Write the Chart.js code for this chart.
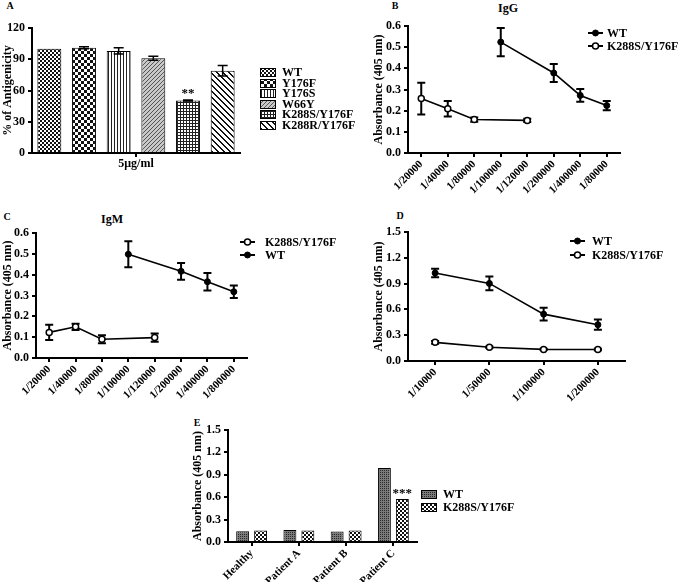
<!DOCTYPE html>
<html>
<head>
<meta charset="utf-8">
<script src="https://cdn.jsdelivr.net/npm/chart.js@4.4.0/dist/chart.umd.min.js"></script>
<style>
  body { margin: 0; background: #fff; width: 683px; height: 582px; position: relative; overflow: hidden; font-family: 'Liberation Serif', serif; }
  .box { position: absolute; }
  .lbl { position: absolute; font-weight: bold; font-size: 10px; color: #000; transform: translate(-50%, -50%); white-space: nowrap; }
  .ttl { font-size: 12px; }
</style>
</head>
<body>
<div class="lbl" style="left:10px;top:5px">A</div>
<div class="lbl" style="left:395px;top:5px">B</div>
<div class="lbl" style="left:7px;top:216px">C</div>
<div class="lbl" style="left:400px;top:215px">D</div>
<div class="lbl" style="left:197px;top:422px">E</div>
<div class="lbl ttl" style="left:508px;top:8px">IgG</div>
<div class="lbl ttl" style="left:112px;top:219px">IgM</div>

<div class="box" style="left:0;top:0"><canvas id="chartA" width="362" height="180"></canvas></div>
<div class="box" style="left:340px;top:0"><canvas id="chartB" width="343" height="205"></canvas></div>
<div class="box" style="left:0;top:195px"><canvas id="chartC" width="340" height="210"></canvas></div>
<div class="box" style="left:340px;top:195px"><canvas id="chartD" width="343" height="210"></canvas></div>
<div class="box" style="left:180px;top:410px"><canvas id="chartE" width="345" height="172"></canvas></div>

<script>
// ---- data ----
const mutantsA = ['WT', 'Y176F', 'Y176S', 'W66Y', 'K288S/Y176F', 'K288R/Y176F'];
const doseA = ['5μg/ml'];
const antigenicityA = [100, 101, 98, 91, 50.5, 79];
const antigenicityErrA = [0, 1, 3, 2, 0.5, 5];

const dilutionsB = ['1/20000', '1/40000', '1/80000', '1/100000', '1/120000', '1/200000', '1/400000', '1/80000'];
const igG_wt = [null, null, null, 0.524, null, 0.378, 0.272, 0.224];
const igG_wtErr = [0, 0, 0, 0.067, 0, 0.042, 0.03, 0.022];
const igG_mut = [0.257, 0.209, 0.158, null, 0.154, null, null, null];
const igG_mutErr = [0.075, 0.037, 0.01, 0, 0.008, 0, 0, 0];

const dilutionsC = ['1/20000', '1/40000', '1/80000', '1/100000', '1/120000', '1/200000', '1/400000', '1/800000'];
const igM_mut = [0.123, 0.15, 0.09, null, 0.098, null, null, null];
const igM_mutErr = [0.037, 0.015, 0.019, 0, 0.02, 0, 0, 0];
const igM_wt = [null, null, null, 0.498, null, 0.416, 0.366, 0.318];
const igM_wtErr = [0, 0, 0, 0.062, 0, 0.04, 0.042, 0.03];

const dilutionsD = ['1/10000', '1/50000', '1/100000', '1/200000'];
const absD_wt = [1.023, 0.902, 0.545, 0.422];
const absD_wtErr = [0.05, 0.08, 0.075, 0.06];
const absD_mut = [0.217, 0.16, 0.135, 0.133];
const absD_mutErr = [0.015, 0.008, 0.008, 0.008];

const groupsE = ['Healthy', 'Patient A', 'Patient B', 'Patient C'];
const absE_wt = [0.145, 0.16, 0.14, 0.99];
const absE_mut = [0.155, 0.155, 0.155, 0.575];

// ---- fill patterns ----
function makePattern(size, draw) {
    let c = document.createElement('canvas');
    c.width = size; c.height = size;
    let g = c.getContext('2d');
    draw(g, size);
    return g.createPattern(c, 'repeat');
}
const patChecker = (cell, dark, light) => makePattern(cell * 2, (g, s) => {
    g.fillStyle = light; g.fillRect(0, 0, s, s);
    g.fillStyle = dark;
    g.fillRect(0, 0, cell, cell);
    g.fillRect(cell, cell, cell, cell);
});
const patVertical = makePattern(3, (g, s) => {
    g.fillStyle = '#fff'; g.fillRect(0, 0, s, s);
    g.fillStyle = '#222'; g.fillRect(0, 0, 1, s);
});
const patFineDiag = makePattern(4, (g, s) => {
    g.fillStyle = '#c8c8c8'; g.fillRect(0, 0, s, s);
    g.fillStyle = '#555';
    for (let i = 0; i < s; i++) g.fillRect(s - 1 - i, i, 1, 1);
});
const patGrid = makePattern(3, (g, s) => {
    g.fillStyle = '#fff'; g.fillRect(0, 0, s, s);
    g.fillStyle = '#222';
    g.fillRect(0, 0, s, 1);
    g.fillRect(0, 0, 1, s);
});
const patBackDiag = makePattern(6, (g, s) => {
    g.fillStyle = '#fff'; g.fillRect(0, 0, s, s);
    g.fillStyle = '#111';
    for (let i = 0; i < s; i++) { g.fillRect(i, i, 2, 1); g.fillRect((i + 1) % s, i, 1, 1); }
});
const patDots = makePattern(2, (g, s) => {
    g.fillStyle = '#7a7a7a'; g.fillRect(0, 0, s, s);
    g.fillStyle = '#2a2a2a'; g.fillRect(0, 0, 1, 1);
});

const patternsA = [patChecker(2, '#111', '#fff'), patChecker(3, '#111', '#fff'), patVertical, patFineDiag, patGrid, patBackDiag];

// ---- plugins ----
function drawErrors(chart, opts) {
    let ctx = chart.ctx, yS = chart.scales.y;
    ctx.save();
    ctx.strokeStyle = '#000';
    ctx.lineWidth = opts.width || 2;
    opts.errors.forEach((errs, di) => {
        if (!errs) return;
        let vals = chart.data.datasets[di].data;
        chart.getDatasetMeta(di).data.forEach((el, i) => {
            let v = vals[i], e = errs[i];
            if (v == null || !e) return;
            let top = yS.getPixelForValue(v + e), bot = yS.getPixelForValue(v - e);
            let cap = opts.cap || 4;
            ctx.beginPath();
            ctx.moveTo(el.x, top); ctx.lineTo(el.x, bot);
            ctx.moveTo(el.x - cap, top); ctx.lineTo(el.x + cap, top);
            ctx.moveTo(el.x - cap, bot); ctx.lineTo(el.x + cap, bot);
            ctx.stroke();
        });
    });
    ctx.restore();
}

const errBars = {
    id: 'errBars',
    beforeDatasetsDraw(chart, args, opts) {
        if (opts.errors && opts.under) drawErrors(chart, opts);
    },
    afterDatasetsDraw(chart, args, opts) {
        if (opts.errors && !opts.under) drawErrors(chart, opts);
    }
};

const stars = {
    id: 'stars',
    afterDatasetsDraw(chart, args, opts) {
        if (!opts.text) return;
        let el = chart.getDatasetMeta(opts.dataset).data[opts.index];
        let ctx = chart.ctx;
        ctx.save();
        ctx.fillStyle = '#000';
        ctx.font = 'bold 13px "Liberation Serif"';
        ctx.textAlign = 'center';
        ctx.textBaseline = 'middle';
        ctx.fillText(opts.text, el.x, el.y - opts.dy);
        ctx.restore();
    }
};

const sideLegend = {
    id: 'sideLegend',
    afterDraw(chart, args, opts) {
        if (opts.x == null) return;
        let ctx = chart.ctx;
        ctx.save();
        ctx.font = 'bold 12px "Liberation Serif"';
        ctx.textBaseline = 'middle';
        chart.data.datasets.forEach((ds, i) => {
            let y = Math.round(opts.y + i * opts.step);
            if (opts.kind === 'bar') {
                ctx.fillStyle = ds.backgroundColor;
                ctx.fillRect(opts.x, y - 4, 15, 8);
                ctx.strokeStyle = '#000';
                ctx.lineWidth = 1;
                ctx.strokeRect(opts.x + 0.5, y - 3.5, 15, 8);
            } else {
                ctx.strokeStyle = '#000';
                ctx.lineWidth = 2;
                ctx.beginPath();
                ctx.moveTo(opts.x, y); ctx.lineTo(opts.x + 15, y);
                ctx.stroke();
                ctx.beginPath();
                ctx.arc(opts.x + 7.5, y, ds.pointRadius, 0, Math.PI * 2);
                ctx.fillStyle = ds.pointBackgroundColor;
                ctx.fill();
                ctx.lineWidth = ds.pointBorderWidth;
                ctx.stroke();
            }
            ctx.fillStyle = '#000';
            ctx.fillText(ds.label, opts.textX, y + 1);
        });
        ctx.restore();
    }
};

Chart.register(errBars, stars, sideLegend);
Chart.defaults.font.family = "'Liberation Serif', serif";
Chart.defaults.font.weight = 'bold';
Chart.defaults.font.size = 12;
Chart.defaults.color = '#000';
Chart.defaults.animation = false;
Chart.defaults.plugins.legend.display = false;
Chart.defaults.plugins.tooltip.enabled = false;

// ---- axis helpers ----
function yAxis(max, step, title, width, dec) {
    return {
        min: 0, max: max,
        ticks: { stepSize: step, padding: 3, font: { size: 12, weight: 'bold' },
                 callback: v => dec ? Number(v).toFixed(dec) : v },
        grid: { drawOnChartArea: false, tickLength: 4, color: '#000', lineWidth: 2 },
        border: { color: '#000', width: 2 },
        title: { display: true, text: title, font: { size: 12, weight: 'bold' }, padding: 1 },
        afterFit: s => { s.width = width; }
    };
}
function xAxis(height, rotated, offset) {
    return {
        offset: offset,
        ticks: { autoSkip: false, minRotation: rotated ? 45 : 0, maxRotation: rotated ? 45 : 0,
                 padding: rotated ? 1 : 0, font: { size: rotated ? 11 : 12, weight: 'bold' } },
        grid: { drawOnChartArea: false, offset: false, tickLength: 4, color: '#000', lineWidth: 2 },
        border: { color: '#000', width: 2 },
        afterFit: s => { s.height = height; }
    };
}
function lineSet(label, data, open) {
    return {
        label: label, data: data, spanGaps: true,
        borderColor: '#000', borderWidth: 1.6,
        pointRadius: 3, pointBorderWidth: open ? 1.5 : 1,
        pointBackgroundColor: open ? '#fff' : '#000', pointBorderColor: '#000'
    };
}

// ---- A ----
new Chart(document.getElementById('chartA'), {
    type: 'bar',
    data: {
        labels: doseA,
        datasets: mutantsA.map((m, i) => ({
            label: m, data: [antigenicityA[i]],
            backgroundColor: patternsA[i], borderColor: '#000', borderWidth: 1,
            categoryPercentage: 1.0, barPercentage: 0.69
        }))
    },
    options: {
        responsive: false,
        layout: { padding: { left: 0, top: 28, right: 122, bottom: 0 } },
        scales: { x: xAxis(27, false, true), y: yAxis(120, 30, '% of Antigenicity', 32, 0) },
        plugins: {
            errBars: { errors: antigenicityErrA.map(e => [e]), cap: 5, width: 1.5 },
            stars: { dataset: 4, index: 0, text: '**', dy: 7 },
            sideLegend: { kind: 'bar', x: 260, y: 72, step: 10.6, textX: 282 }
        }
    }
});

// ---- B ----
new Chart(document.getElementById('chartB'), {
    type: 'line',
    data: { labels: dilutionsB, datasets: [lineSet('WT', igG_wt, false), lineSet('K288S/Y176F', igG_mut, true)] },
    options: {
        responsive: false,
        layout: { padding: { left: 31, top: 26, right: 63, bottom: 0 } },
        scales: { x: xAxis(52, true, true), y: yAxis(0.6, 0.1, 'Absorbance (405 nm)', 37, 1) },
        plugins: {
            errBars: { errors: [igG_wtErr, igG_mutErr], under: true, cap: 4 },
            sideLegend: { kind: 'line', x: 248, y: 33, step: 13, textX: 267 }
        }
    }
});

// ---- C ----
new Chart(document.getElementById('chartC'), {
    type: 'line',
    data: { labels: dilutionsC, datasets: [lineSet('K288S/Y176F', igM_mut, true), lineSet('WT', igM_wt, false)] },
    options: {
        responsive: false,
        layout: { padding: { left: 0, top: 38, right: 93, bottom: 0 } },
        scales: { x: xAxis(47, true, true), y: yAxis(0.6, 0.1, 'Absorbance (405 nm)', 36, 1) },
        plugins: {
            errBars: { errors: [igM_mutErr, igM_wtErr], under: true, cap: 4 },
            sideLegend: { kind: 'line', x: 240, y: 47, step: 13, textX: 265 }
        }
    }
});

// ---- D ----
new Chart(document.getElementById('chartD'), {
    type: 'line',
    data: { labels: dilutionsD, datasets: [lineSet('WT', absD_wt, false), lineSet('K288S/Y176F', absD_mut, true)] },
    options: {
        responsive: false,
        layout: { padding: { left: 31, top: 37, right: 58, bottom: 0 } },
        scales: { x: xAxis(44, true, true), y: yAxis(1.5, 0.3, 'Absorbance (405 nm)', 37, 1) },
        plugins: {
            errBars: { errors: [absD_wtErr, absD_mutErr], under: true, cap: 4 },
            sideLegend: { kind: 'line', x: 230, y: 46, step: 14, textX: 252 }
        }
    }
});

// ---- E ----
new Chart(document.getElementById('chartE'), {
    type: 'bar',
    data: {
        labels: groupsE,
        datasets: [
            { label: 'WT', data: absE_wt, backgroundColor: patDots, borderColor: '#000', borderWidth: 1,
              categoryPercentage: 0.76, barPercentage: 0.72 },
            { label: 'K288S/Y176F', data: absE_mut, backgroundColor: patChecker(2, '#111', '#fff'), borderColor: '#000', borderWidth: 1,
              categoryPercentage: 0.76, barPercentage: 0.72 }
        ]
    },
    options: {
        responsive: false,
        layout: { padding: { left: 10, top: 20, right: 108, bottom: 0 } },
        scales: { x: xAxis(40, true, true), y: yAxis(1.5, 0.3, 'Absorbance (405 nm)', 38, 1) },
        plugins: {
            stars: { dataset: 1, index: 3, text: '***', dy: 5 },
            sideLegend: { kind: 'bar', x: 241, y: 84, step: 13, textX: 263 }
        }
    }
});
</script>
</body>
</html>
